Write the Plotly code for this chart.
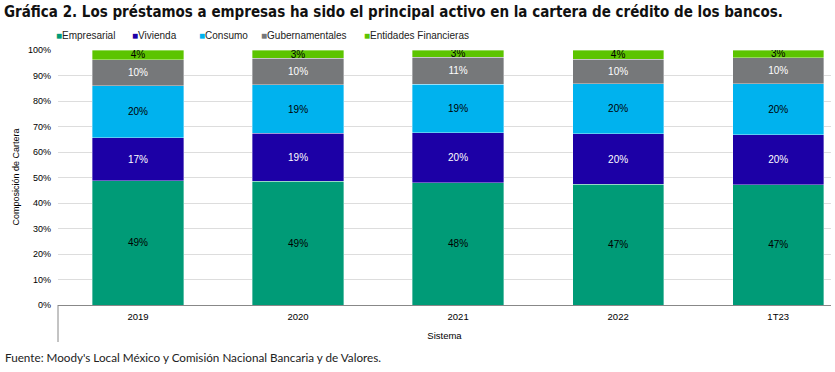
import plotly.graph_objects as go

categories = ["2019", "2020", "2021", "2022", "1T23"]
empresarial = [48.7, 48.6, 47.9, 47.3, 47.1]
vivienda = [16.9, 18.8, 19.6, 19.8, 19.6]
consumo = [20.3, 18.9, 19.1, 19.6, 20.0]
gubernamentales = [10.2, 10.5, 10.6, 9.7, 10.2]
entidades = [3.9, 3.2, 2.8, 3.6, 3.1]
y_ticks = list(range(0, 101, 10))
y_tick_labels = [f"{v}%" for v in y_ticks]

series = [
    ("Empresarial", empresarial, "#009B77", "#000000"),
    ("Vivienda", vivienda, "#1C00A6", "#FFFFFF"),
    ("Consumo", consumo, "#00B2EE", "#000000"),
    ("Gubernamentales", gubernamentales, "#76787A", "#FFFFFF"),
    ("Entidades Financieras", entidades, "#5CC400", "#000000"),
]

fig = go.Figure()
for name, vals, color, tcolor in series:
    fig.add_trace(go.Bar(
        x=categories, y=vals, name=name,
        marker=dict(color=color, line=dict(color="rgba(255,255,255,0.6)", width=0.6)),
        text=[f"{round(v):.0f}%" for v in vals],
        textposition="inside", insidetextanchor="middle",
        constraintext="none",
        textfont=dict(family="Liberation Sans, Arial", size=10, color=tcolor),
        hoverinfo="skip", showlegend=False,
    ))

L, R, T, B = 58, 4, 50, 67
W, H = 835, 372
pw = W - L - R
ph = H - T - B

# legend built as text items (square marker + label)
legend_x = [54, 130, 197, 259, 362]
annotations = []
for (name, vals, color, tcolor), px in zip(series, legend_x):
    annotations.append(dict(
        text=f"<span style='color:{color}'>■</span>{name}",
        xref="paper", yref="paper", x=(px - L) / pw, xanchor="left",
        y=1 + (T - 35) / ph, yanchor="middle", showarrow=False,
        font=dict(family="Liberation Sans, Arial", size=10, color="#222222"),
    ))
annotations.append(dict(
    text="Fuente: Moody's Local México y Comisión Nacional Bancaria y de Valores.",
    xref="paper", yref="paper", x=(3 - L) / pw, xanchor="left",
    y=-(357 - (H - B)) / ph, yanchor="middle", showarrow=False,
    font=dict(family="Lato, Open Sans", size=11.7, color="#222222"),
))
annotations.append(dict(
    text="Composición de Cartera", textangle=-90,
    xref="paper", yref="paper", x=(15 - L) / pw, xanchor="center",
    y=0.5, yanchor="middle", showarrow=False,
    font=dict(family="Liberation Sans, Arial", size=9, color="#000000"),
))

fig.update_layout(
    barmode="stack", bargap=0.43,
    width=W, height=H,
    margin=dict(l=L, r=R, t=T, b=B, autoexpand=False),
    plot_bgcolor="white", paper_bgcolor="white",
    font=dict(family="Liberation Sans, Arial", size=9, color="#000000"),
    title=dict(
        text="<b>Gráfica 2. Los préstamos a empresas ha sido el principal activo en la cartera de crédito de los bancos.</b>",
        xref="container", yref="container", x=4 / W, xanchor="left",
        y=1 - 12 / H, yanchor="middle",
        font=dict(family="DejaVu Sans Condensed, DejaVu Sans", size=15, color="#111111"),
    ),
    showlegend=False,
    xaxis=dict(
        range=[-0.5, 4.33], automargin=False,
        showline=True, linecolor="#888888", linewidth=1,
        ticks="", tickfont=dict(size=9.5), ticklabelstandoff=3,
        title=dict(text="Sistema", font=dict(size=9.5), standoff=10),
        fixedrange=True,
    ),
    yaxis=dict(
        range=[0, 100], tickvals=y_ticks, ticktext=y_tick_labels, automargin=False,
        showgrid=True, gridcolor="#DDDDDD", gridwidth=1.3,
        zeroline=False, tickfont=dict(size=9), ticklabelstandoff=6,
        fixedrange=True,
    ),
    shapes=[dict(
        type="line", xref="paper", yref="paper",
        x0=0, x1=0, y0=0, y1=-(342 - (H - B)) / ph,
        line=dict(color="#888888", width=1),
    )],
    annotations=annotations,
)

fig.write_html(
    "out.html",
    config={"displayModeBar": False},
    post_script="document.body.style.margin='0';document.body.style.overflow='hidden';",
)
